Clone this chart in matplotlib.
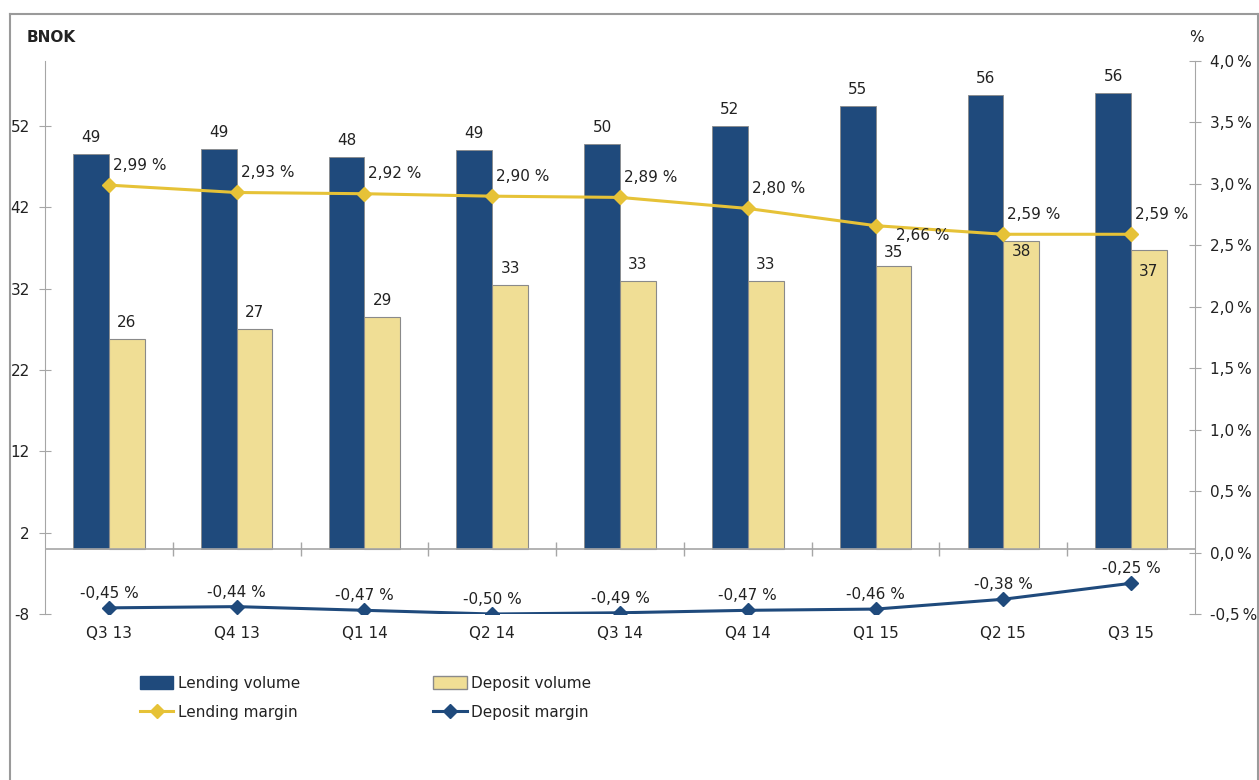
import matplotlib
matplotlib.use("Agg")
import matplotlib.pyplot as plt
from matplotlib.lines import Line2D
from matplotlib.patches import Patch
import matplotlib.transforms as mtransforms
import numpy as np

# ---- data ----
categories = ["Q3 13", "Q4 13", "Q1 14", "Q2 14", "Q3 14", "Q4 14", "Q1 15", "Q2 15", "Q3 15"]
lending_volume = [48.6, 49.2, 48.2, 49.0, 49.8, 52.0, 54.5, 55.8, 56.1]
lending_labels = ["49", "49", "48", "49", "50", "52", "55", "56", "56"]
deposit_volume = [25.8, 27.0, 28.5, 32.5, 33.0, 32.9, 34.8, 37.9, 36.8]
deposit_labels = ["26", "27", "29", "33", "33", "33", "35", "38", "37"]
lending_margin = [2.99, 2.93, 2.92, 2.90, 2.89, 2.80, 2.66, 2.59, 2.59]
deposit_margin = [-0.45, -0.44, -0.47, -0.50, -0.49, -0.47, -0.46, -0.38, -0.25]
left_ticks = [-8, 2, 12, 22, 32, 42, 52]
right_ticks = [-0.5, 0.0, 0.5, 1.0, 1.5, 2.0, 2.5, 3.0, 3.5, 4.0]

# ---- style ----
BLUE = "#1F4A7C"
SAND = "#F0DE95"
GOLD = "#E6C237"
GRAY = "#A6A6A6"
TXT = "#222222"
FS = 11
plt.rcParams['font.family'] = ['DejaVu Sans']

W, H = 1259, 780
fig = plt.figure(figsize=(W / 100, H / 100), dpi=100)
# axes: x 45..1195, y 61..614 (pixels from top)
ax = fig.add_axes([45 / W, 1 - 614 / H, 1150 / W, 553 / H])
ax2 = ax.twinx()

x = np.arange(len(categories))
bw = 0.28
ax.bar(x - bw / 2, lending_volume, bw, color=BLUE, edgecolor="#8a8a8a", linewidth=0.6, zorder=2)
ax.bar(x + bw / 2, deposit_volume, bw, color=SAND, edgecolor="#8a8a8a", linewidth=0.8, zorder=2)
ax.set_xlim(-0.5, len(categories) - 0.5)
ax.set_ylim(-8, 60)
ax2.set_ylim(-0.5, 4.0)

# bar value labels
dep_label_offsets = [9, 9, 9, 9, 9, 9, 6, -18, -29]  # px
for i in range(len(categories)):
    ax.annotate(lending_labels[i], (x[i] - bw / 2, lending_volume[i]), xytext=(0, 9),
                textcoords="offset pixels", ha="center", va="bottom", fontsize=FS, color=TXT, zorder=5)
    ax.annotate(deposit_labels[i], (x[i] + bw / 2, deposit_volume[i]), xytext=(0, dep_label_offsets[i]),
                textcoords="offset pixels", ha="center", va="bottom", fontsize=FS, color=TXT, zorder=5)

# lines
ax2.plot(x, lending_margin, color=GOLD, lw=2.2, marker="D", ms=7, zorder=4)
ax2.plot(x, deposit_margin, color=BLUE, lw=2.2, marker="D", ms=7, zorder=4)

def pct(v):
    return f"{v:.2f}".replace(".", ",") + " %"

lm_offsets = [(4, 20), (4, 20), (4, 20), (4, 20), (4, 20), (4, 20), (20, -10), (4, 20), (4, 20)]
for i in range(len(categories)):
    dx, dy = lm_offsets[i]
    ax2.annotate(pct(lending_margin[i]), (x[i], lending_margin[i]), xytext=(dx, dy),
                 textcoords="offset pixels", ha="left", va="center", fontsize=FS, color=TXT, zorder=5)
    ax2.annotate(pct(deposit_margin[i]), (x[i], deposit_margin[i]), xytext=(0, 7),
                 textcoords="offset pixels", ha="center", va="bottom", fontsize=FS, color=TXT, zorder=5)

# spines / ticks
for a in (ax, ax2):
    for s in ("top", "bottom"):
        a.spines[s].set_visible(False)
    a.spines["left"].set_color(GRAY)
    a.spines["right"].set_color(GRAY)
ax.spines["right"].set_visible(False)
ax2.spines["left"].set_visible(False)

ax.set_yticks(left_ticks)
ax.set_yticklabels([str(t) for t in left_ticks])
ax.tick_params(axis="y", direction="inout", length=8, color=GRAY, labelsize=FS, labelcolor=TXT, pad=7)
ax2.set_yticks(right_ticks)
ax2.set_yticklabels([f"{t:.1f}".replace(".", ",") + "\u2009%" for t in right_ticks])
ax2.tick_params(axis="y", direction="inout", length=8, color=GRAY, labelsize=FS, labelcolor=TXT, pad=7)

# zero line with category separators
ax.axhline(0, color=GRAY, lw=1.2, zorder=3)
ax.set_xticks([])
sep = np.arange(0.5, len(categories) - 0.5, 1.0)
ax.plot(sep, np.zeros_like(sep), linestyle="none", marker="|", ms=10, mew=1.0, color=GRAY, zorder=3)

# category labels
trans = mtransforms.blended_transform_factory(ax.transData, fig.transFigure)
for i, c in enumerate(categories):
    ax.text(x[i], 1 - 633 / H, c, transform=trans, ha="center", va="center", fontsize=FS, color=TXT)

# axis titles
fig.text(27 / W, 1 - 38 / H, "BNOK", ha="left", va="center", fontsize=FS, fontweight="bold", color=TXT)
fig.text(1196 / W, 1 - 38 / H, "%", ha="center", va="center", fontsize=FS, color=TXT)

# legend
handles = [
    Patch(facecolor=BLUE, edgecolor=BLUE),
    Line2D([], [], color=GOLD, lw=2.2, marker="D", ms=7),
    Patch(facecolor=SAND, edgecolor="#8a8a8a"),
    Line2D([], [], color=BLUE, lw=2.2, marker="D", ms=7),
]
labels = ["Lending volume", "Lending margin", "Deposit volume", "Deposit margin"]
fig.legend(handles, labels, ncol=2, loc="upper left", bbox_to_anchor=(126 / W, 1 - 662 / H),
           frameon=False, fontsize=FS, handlelength=2.2, handleheight=0.9, handletextpad=0.3,
           columnspacing=8.7, labelspacing=0.9, labelcolor=TXT)

# outer frame
fig.add_artist(Line2D([10 / W, 10 / W], [0, 1 - 14 / H], color="#9a9a9a", lw=1.5, transform=fig.transFigure))
fig.add_artist(Line2D([10 / W, 1258 / W], [1 - 14 / H, 1 - 14 / H], color="#9a9a9a", lw=1.5, transform=fig.transFigure))
fig.add_artist(Line2D([1258 / W, 1258 / W], [0, 1 - 14 / H], color="#9a9a9a", lw=1.5, transform=fig.transFigure))

fig.savefig("out.png", dpi=100)
